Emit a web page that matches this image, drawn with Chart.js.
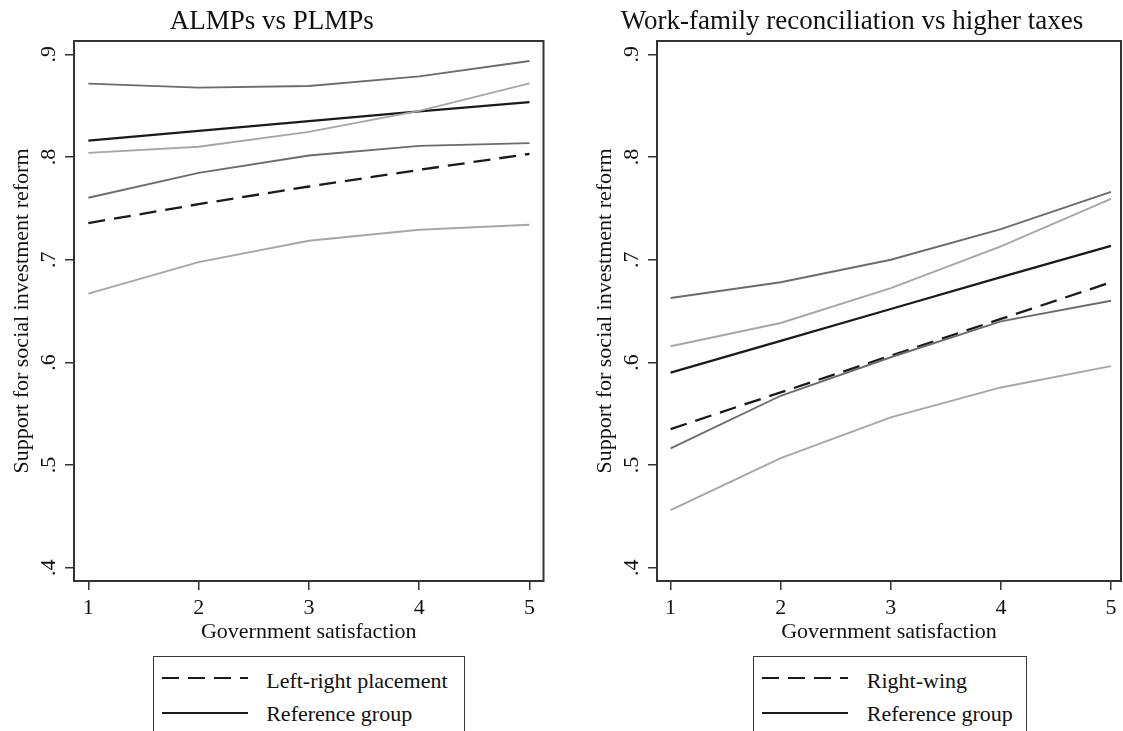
<!DOCTYPE html>
<html>
<head>
<meta charset="utf-8">
<script src="https://cdn.jsdelivr.net/npm/chart.js@4.4.1/dist/chart.umd.min.js"></script>
<style>
  html, body { margin:0; padding:0; background:#fff; overflow:hidden; width:1123px; height:731px; }
  canvas { position:absolute; top:0; }
  .lgbox { position:absolute; top:656px; height:100px; border:1.5px solid #3a3a3a; box-sizing:border-box; background:#fff; }
  .lgtext { position:absolute; font-family:'Liberation Serif', serif; font-size:22px; line-height:22px; color:#111; white-space:nowrap; }
  svg.lgline { position:absolute; overflow:visible; }
</style>
</head>
<body>
<canvas id="c1" width="551" height="731" style="left:0px"></canvas>
<canvas id="c2" width="550" height="731" style="left:583px"></canvas>
<div id="legends"></div>
<script>
// ---------------- data ----------------
const xValues = [1, 2, 3, 4, 5];
const xTickValues = [1, 2, 3, 4, 5];
const xTickLabels = ['1', '2', '3', '4', '5'];
const yTickValues = [0.4, 0.5, 0.6, 0.7, 0.8, 0.9];
const yTickLabels = ['.4', '.5', '.6', '.7', '.8', '.9'];

// Panel 1: ALMPs vs PLMPs
const almpTitle = 'ALMPs vs PLMPs';
const almpRef      = [0.8160, 0.8255, 0.8350, 0.8445, 0.8535];
const almpRefUpper = [0.8715, 0.8676, 0.8692, 0.8786, 0.8935];
const almpRefLower = [0.7603, 0.7846, 0.8015, 0.8109, 0.8135];
const almpGrp      = [0.7357, 0.7541, 0.7713, 0.7875, 0.8031];
const almpGrpUpper = [0.8040, 0.8100, 0.8245, 0.8450, 0.8718];
const almpGrpLower = [0.6669, 0.6977, 0.7185, 0.7292, 0.7340];
const almpLegend = ['Left-right placement', 'Reference group'];

// Panel 2: Work-family reconciliation vs higher taxes
const wfrTitle = 'Work-family reconciliation vs higher taxes';
const wfrRef      = [0.5900, 0.6210, 0.6520, 0.6830, 0.7135];
const wfrRefUpper = [0.6627, 0.6780, 0.7000, 0.7298, 0.7661];
const wfrRefLower = [0.5162, 0.5675, 0.6050, 0.6400, 0.6600];
const wfrGrp      = [0.5350, 0.5708, 0.6065, 0.6423, 0.6780];
const wfrGrpUpper = [0.6157, 0.6384, 0.6724, 0.7130, 0.7593];
const wfrGrpLower = [0.4562, 0.5068, 0.5464, 0.5756, 0.5964];
const wfrLegend = ['Right-wing', 'Reference group'];

const xTitle = 'Government satisfaction';
const yTitle = 'Support for social investment reform';

// ---------------- styling ----------------
const FONT = 'Liberation Serif';
const DARK_CI = '#6c6c6c';
const LIGHT_CI = '#a6a6a6';
const MAIN = '#1a1a1a';
const DASH = [17, 9];

Chart.defaults.font.family = FONT;
Chart.defaults.color = '#111';

const pts = arr => arr.map((v, i) => ({ x: xValues[i], y: v }));

const framePlugin = {
  id: 'frame',
  afterDatasetsDraw(chart) {
    const { ctx, chartArea: { left, top, right, bottom } } = chart;
    ctx.save();
    ctx.strokeStyle = '#333';
    ctx.lineWidth = 2;
    ctx.strokeRect(left, top, right - left, bottom - top);
    ctx.restore();
  }
};

function makePanel(id, title, ref, refU, refL, grp, grpU, grpL, xmin, xmax, padRight) {
  const line = (data, color, width, dash) => ({
    data: pts(data), borderColor: color, borderWidth: width, borderDash: dash || [],
    pointRadius: 0, tension: 0, fill: false
  });
  return new Chart(document.getElementById(id), {
    type: 'line',
    data: {
      datasets: [
        line(refU, DARK_CI, 1.9),
        line(refL, DARK_CI, 1.9),
        line(grpU, LIGHT_CI, 1.9),
        line(grpL, LIGHT_CI, 1.9),
        line(ref, MAIN, 2.3),
        line(grp, MAIN, 2.3, DASH)
      ]
    },
    options: {
      responsive: false,
      animation: false,
      events: [],
      layout: { padding: { left: 0, right: padRight, top: 0, bottom: 0 } },
      plugins: {
        legend: { display: false },
        tooltip: { enabled: false },
        title: {
          display: true, text: title, color: '#111',
          font: { family: FONT, size: 27, weight: 'normal', lineHeight: 1.2 },
          padding: { top: 5.8, bottom: 2.8 }
        }
      },
      scales: {
        x: {
          type: 'linear', min: xmin, max: xmax,
          afterBuildTicks: s => { s.ticks = xTickValues.map(v => ({ value: v })); },
          afterFit: s => { s.height = 150; },
          ticks: {
            callback: (v, i) => xTickLabels[i], autoSkip: false, maxRotation: 0, minRotation: 0,
            padding: 5, color: '#111', font: { family: FONT, size: 22 }
          },
          grid: { drawOnChartArea: false, tickLength: 9, color: '#333', lineWidth: 1.5 },
          border: { display: false },
          title: {
            display: true, text: xTitle, color: '#111',
            font: { family: FONT, size: 22, lineHeight: 1.2 },
            padding: { top: 0, bottom: 86 }
          }
        },
        y: {
          type: 'linear', min: 0.3871, max: 0.9130,
          afterBuildTicks: s => { s.ticks = yTickValues.map(v => ({ value: v })); },
          afterFit: s => { s.width = 74; },
          ticks: {
            callback: (v, i) => yTickLabels[i], autoSkip: false,
            minRotation: 90, maxRotation: 90, crossAlign: 'center',
            padding: 8, color: '#111', font: { family: FONT, size: 22 }
          },
          grid: { drawOnChartArea: false, tickLength: 9, color: '#333', lineWidth: 1.5 },
          border: { display: false },
          title: {
            display: true, text: yTitle, color: '#111',
            font: { family: FONT, size: 22, lineHeight: 1.2 },
            padding: { top: 9.5, bottom: 0 }
          }
        }
      }
    },
    plugins: [framePlugin]
  });
}

makePanel('c1', almpTitle, almpRef, almpRefUpper, almpRefLower, almpGrp, almpGrpUpper, almpGrpLower, 0.870, 5.127, 7.5);
makePanel('c2', wfrTitle, wfrRef, wfrRefUpper, wfrRefLower, wfrGrp, wfrGrpUpper, wfrGrpLower, 0.8765, 5.091, 12);

// ---------------- legends (HTML) ----------------
function buildLegend(boxLeft, boxWidth, labels) {
  const host = document.getElementById('legends');
  const box = document.createElement('div');
  box.className = 'lgbox';
  box.style.left = boxLeft + 'px';
  box.style.width = boxWidth + 'px';
  host.appendChild(box);
  const rowsY = [678.3, 713.3];
  const styles = [DASH.join(' '), 'none'];
  labels.forEach((lab, i) => {
    const svg = document.createElementNS('http://www.w3.org/2000/svg', 'svg');
    svg.setAttribute('class', 'lgline');
    svg.setAttribute('width', '86'); svg.setAttribute('height', '4');
    svg.style.left = (boxLeft + 9) + 'px';
    svg.style.top = (rowsY[i] - 2) + 'px';
    const ln = document.createElementNS('http://www.w3.org/2000/svg', 'line');
    ln.setAttribute('x1', '0'); ln.setAttribute('x2', '86');
    ln.setAttribute('y1', '2'); ln.setAttribute('y2', '2');
    ln.setAttribute('stroke', MAIN); ln.setAttribute('stroke-width', '2.2');
    if (styles[i] !== 'none') ln.setAttribute('stroke-dasharray', styles[i]);
    svg.appendChild(ln);
    host.appendChild(svg);
    const t = document.createElement('div');
    t.className = 'lgtext';
    t.textContent = lab;
    t.style.left = (boxLeft + 113.5) + 'px';
    t.style.top = (i === 0 ? 669.6 : 703) + 'px';
    host.appendChild(t);
  });
}
buildLegend(152.7, 312.3, almpLegend);
buildLegend(753.3, 274, wfrLegend);
</script>
</body>
</html>
